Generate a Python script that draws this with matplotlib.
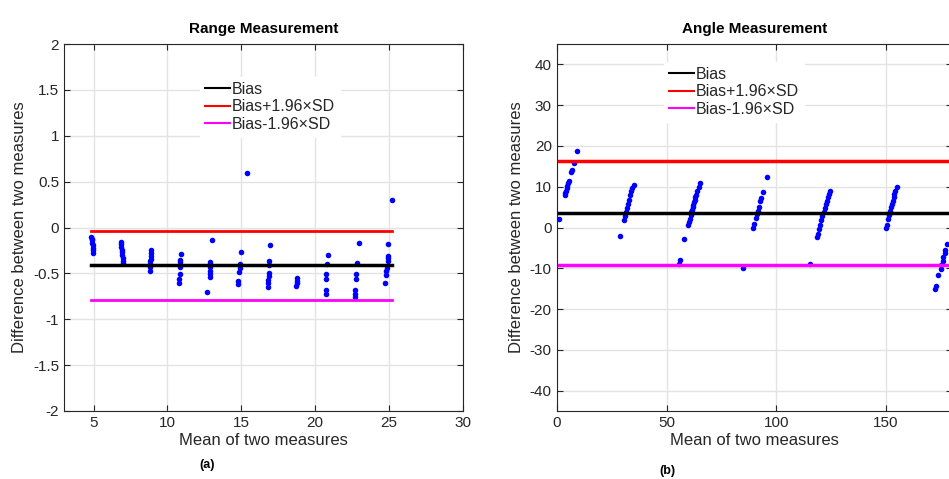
import matplotlib
matplotlib.use("Agg")
import matplotlib.pyplot as plt
from matplotlib.ticker import FuncFormatter

plt.rcParams["font.family"] = ["Liberation Sans", "DejaVu Sans"]

AXIS_COLOR = "#262626"
GRID_COLOR = "#e3e3e3"

# Range measurement (panel a): mean of two measures vs. difference
range_mean = [
    4.85, 4.88, 4.9, 4.92, 4.93, 4.95, 4.96, 4.98,
    6.85, 6.87, 6.88, 6.9, 6.92, 6.94, 6.96, 6.98, 7.0,
    8.8, 8.82, 8.84, 8.85, 8.87, 8.88, 8.9, 8.92,
    10.78, 10.8, 10.82, 10.84, 10.86, 10.88, 10.9,
    12.7, 12.85, 12.85, 12.85, 12.88, 12.9, 12.9, 13.0,
    14.8, 14.8, 14.85, 14.9, 14.9, 15.0,
    15.36,
    16.8, 16.8, 16.8, 16.85, 16.85, 16.9, 16.9, 16.95,
    18.72, 18.75, 18.78, 18.8,
    20.7, 20.7, 20.75, 20.75, 20.8, 20.85,
    22.7, 22.7, 22.7, 22.75, 22.75, 22.8, 22.95,
    24.75, 24.8, 24.8, 24.85, 24.9, 24.9, 24.95, 24.9,
    25.2,
]
range_diff = [
    -0.10, -0.12, -0.14, -0.17, -0.19, -0.22, -0.25, -0.28,
    -0.16, -0.18, -0.21, -0.24, -0.27, -0.30, -0.33, -0.36, -0.39,
    -0.47, -0.43, -0.40, -0.37, -0.34, -0.31, -0.28, -0.25,
    -0.61, -0.56, -0.51, -0.43, -0.38, -0.35, -0.29,
    -0.70, -0.54, -0.51, -0.47, -0.43, -0.40, -0.38, -0.14,
    -0.62, -0.58, -0.49, -0.44, -0.40, -0.27,
    0.59,
    -0.65, -0.61, -0.57, -0.53, -0.50, -0.41, -0.37, -0.19,
    -0.64, -0.61, -0.58, -0.55,
    -0.73, -0.68, -0.56, -0.51, -0.40, -0.30,
    -0.76, -0.72, -0.68, -0.56, -0.51, -0.39, -0.17,
    -0.61, -0.52, -0.47, -0.44, -0.36, -0.33, -0.31, -0.18,
    0.30,
]
range_bias = -0.41
range_upper = -0.035
range_lower = -0.79

# Angle measurement (panel b)
angle_mean = [
    1.0, 3.7, 4.0, 4.3, 4.6, 4.9, 5.3, 5.6, 6.7, 7.0, 8.0, 9.4,
    29.0, 30.8, 31.2, 31.6, 32.0, 32.4, 32.9, 33.4, 33.9, 34.4, 35.0,
    55.5, 56.0, 58.1,
    59.9, 60.3, 60.7, 61.0, 61.3, 61.6, 61.9, 62.2, 62.5, 62.8, 63.1,
    63.5, 64.0, 64.6, 65.3,
    84.7,
    89.5, 90.0, 90.6, 91.0, 91.5, 92.0, 92.5, 93.0, 93.8, 95.9,
    115.3,
    118.4, 118.8, 119.5, 120.0, 120.5, 121.0, 121.5, 122.0, 122.5,
    123.0, 123.5, 124.0, 124.5,
    149.8, 150.2, 150.8, 151.3, 151.8, 152.2, 152.6, 153.0, 153.4,
    153.8, 154.2, 154.8,
    172.2, 172.5, 173.8, 174.8, 175.2, 175.7, 176.1, 176.6, 177.0, 177.6,
]
angle_diff = [
    2.0, 8.0, 8.5, 9.0, 9.6, 10.2, 10.9, 11.5, 13.5, 14.0, 15.8, 18.7,
    -2.0, 1.8, 2.8, 3.8, 4.8, 5.8, 6.8, 8.0, 9.0, 9.8, 10.4,
    -8.9, -8.0, -2.8,
    0.5, 1.3, 2.2, 3.0, 3.7, 4.4, 5.0, 5.6, 6.2, 6.8, 7.4,
    8.0, 8.9, 9.9, 10.9,
    -10.0,
    -0.2, 0.8, 2.4, 3.2, 4.0, 5.0, 6.5, 7.2, 8.6, 12.4,
    -8.9,
    -2.4, -1.5, -0.3, 0.7, 1.8, 2.8, 3.8, 4.8, 5.8,
    6.6, 7.6, 8.3, 9.0,
    0.0, 0.5, 2.0, 3.0, 4.0, 5.0, 5.8, 6.6, 7.4,
    8.2, 9.0, 10.0,
    -15.0, -14.3, -11.6, -10.1, -9.2, -8.3, -7.2, -6.3, -5.5, -4.1,
]
angle_bias = 3.6
angle_upper = 16.3
angle_lower = -9.2

LEGEND_LABELS = ["Bias", "Bias+1.96×SD", "Bias-1.96×SD"]


def plain_number(v, pos):
    return f"{v:g}"


def draw_panel(ax, mean, diff, bias, upper, lower, line_x, title,
               xlim, ylim, xticks, yticks, lw_bias, lw_lim):
    ax.plot(mean, diff, "o", color="#0000ff", ms=4, mec="none", zorder=3)

    b, = ax.plot(line_x, [bias, bias], color="black", lw=lw_bias, zorder=4)
    u, = ax.plot(line_x, [upper, upper], color="#ff0000", lw=lw_lim, zorder=4)
    l, = ax.plot(line_x, [lower, lower], color="#ff00ff", lw=lw_lim, zorder=4)

    ax.set_xlim(*xlim)
    ax.set_ylim(*ylim)
    ax.set_xticks(xticks)
    ax.set_yticks(yticks)
    ax.xaxis.set_major_formatter(FuncFormatter(plain_number))
    ax.yaxis.set_major_formatter(FuncFormatter(plain_number))

    ax.grid(True, color=GRID_COLOR, lw=1.0)
    ax.set_axisbelow(True)
    ax.tick_params(direction="in", top=True, right=True, length=4,
                   colors=AXIS_COLOR, labelsize=11, width=0.8)
    for s in ax.spines.values():
        s.set_color(AXIS_COLOR)
        s.set_linewidth(0.8)

    ax.set_title(title, fontsize=11, fontweight="bold", pad=8)
    ax.set_xlabel("Mean of two measures", fontsize=12, color=AXIS_COLOR, labelpad=2)
    ax.set_ylabel("Difference between two measures", fontsize=12,
                  color=AXIS_COLOR, labelpad=4)
    return [b, u, l]


fig = plt.figure(figsize=(9.49, 4.79), dpi=100)

W, H = 949.0, 479.0
ax1 = fig.add_axes([64 / W, 1 - 411 / H, (463 - 64) / W, (411 - 44) / H])
ax2 = fig.add_axes([556.7 / W, 1 - 411 / H, (952 - 556.7) / W, (411 - 44) / H])

h1 = draw_panel(ax1, range_mean, range_diff, range_bias, range_upper, range_lower,
                [min(range_mean), max(range_mean)], "Range Measurement",
                (3, 30), (-2, 2), [5, 10, 15, 20, 25, 30],
                [-2, -1.5, -1, -0.5, 0, 0.5, 1, 1.5, 2], 2.5, 2.0)
h2 = draw_panel(ax2, angle_mean, angle_diff, angle_bias, angle_upper, angle_lower,
                [1, 180], "Angle Measurement",
                (0, 180), (-45, 45), [0, 50, 100, 150],
                list(range(-40, 41, 10)), 2.5, 2.5)

leg_kw = dict(loc="upper left", fontsize=11.5, frameon=True, facecolor="white",
              edgecolor="white", framealpha=1.0, fancybox=False,
              handlelength=1.6, handletextpad=0.1, labelspacing=0.16,
              borderpad=0.3, borderaxespad=0)
leg1 = ax1.legend(h1, LEGEND_LABELS, bbox_to_anchor=(200 / W, 1 - 77 / H),
                  bbox_transform=fig.transFigure, **leg_kw)
leg2 = ax2.legend(h2, LEGEND_LABELS, bbox_to_anchor=(664 / W, 1 - 62 / H),
                  bbox_transform=fig.transFigure, **leg_kw)
for leg in (leg1, leg2):
    for line in leg.get_lines():
        line.set_linewidth(1.5)
    for t in leg.get_texts():
        t.set_color(AXIS_COLOR)

fig.text(207 / W, 1 - 465 / H, "(a)", ha="center", va="center",
         fontsize=9, fontweight="bold")
fig.text(667 / W, 1 - 471 / H, "(b)", ha="center", va="center",
         fontsize=9, fontweight="bold")

fig.savefig("out.png", dpi=100)
